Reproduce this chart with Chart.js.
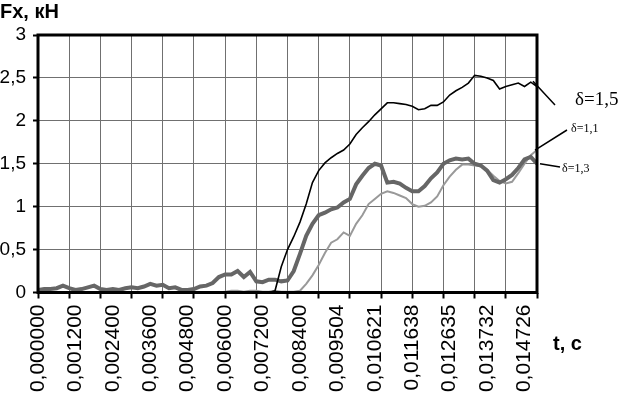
<!DOCTYPE html>
<html lang="ru">

<head>
    <meta charset="UTF-8" />
    <title>Fx(t)</title>
    <style>
        body {
            margin: 0;
            background: #ffffff;
        }

        #fxChart {
            display: block;
        }
    </style>
</head>

<body>
    <canvas id="fxChart" width="618" height="397"></canvas>
</body>
<script src="https://cdn.jsdelivr.net/npm/chart.js"></script>
<script>
    // tick labels
    timeLabels = ['0,000000', '0,001200', '0,002400', '0,003600', '0,004800', '0,006000', '0,007200',
        '0,008400', '0,009504', '0,010621', '0,011638', '0,012635', '0,013732', '0,014726'];
    forceLabels = ['0', '0,5', '1', '1,5', '2', '2,5', '3'];

    // one label every 6 samples, one grid line every 5 samples
    labelStep = 6;
    gridStep = 5;

    // Fx, kN for each sample
    delta15 = [0, 0, 0, 0, 0, 0, 0, 0, 0, 0,
        0, 0, 0, 0, 0, 0, 0, 0, 0, 0,
        0, 0, 0, 0, 0, 0, 0, 0, 0, 0,
        0, 0, 0, 0, 0, 0, 0, 0, 0.02, 0.30,
        0.50, 0.65, 0.82, 1.03, 1.28, 1.42, 1.51, 1.57, 1.62, 1.66,
        1.73, 1.84, 1.92, 1.99, 2.07, 2.14, 2.21, 2.21, 2.20, 2.19,
        2.17, 2.13, 2.14, 2.18, 2.18, 2.22, 2.30, 2.35, 2.39, 2.44,
        2.53, 2.52, 2.50, 2.47, 2.37, 2.40, 2.42, 2.44, 2.40, 2.45,
        2.40];

    delta13 = [0.03, 0.04, 0.04, 0.05, 0.08, 0.05, 0.03, 0.04, 0.06, 0.08,
        0.04, 0.03, 0.04, 0.03, 0.05, 0.06, 0.05, 0.07, 0.10, 0.08,
        0.09, 0.05, 0.06, 0.03, 0.03, 0.04, 0.07, 0.08, 0.11, 0.18,
        0.21, 0.21, 0.25, 0.18, 0.24, 0.13, 0.12, 0.15, 0.15, 0.13,
        0.14, 0.25, 0.45, 0.66, 0.80, 0.90, 0.93, 0.97, 0.99, 1.05,
        1.09, 1.26, 1.36, 1.45, 1.50, 1.48, 1.28, 1.29, 1.27, 1.22,
        1.18, 1.18, 1.24, 1.33, 1.40, 1.50, 1.54, 1.56, 1.55, 1.56,
        1.50, 1.48, 1.42, 1.31, 1.28, 1.32, 1.37, 1.45, 1.55, 1.58,
        1.50];

    delta11 = [0, 0, 0, 0, 0, 0, 0, 0, 0, 0,
        0, 0, 0, 0, 0, 0, 0, 0, 0, 0,
        0, 0, 0, 0, 0, 0, 0, 0, 0, 0,
        0.01, 0.02, 0.02, 0.01, 0.02, 0.02, 0.01, 0.01, 0.02, 0.01,
        0.01, 0.01, 0.02, 0.10, 0.20, 0.32, 0.46, 0.58, 0.62, 0.70,
        0.66, 0.80, 0.90, 1.03, 1.09, 1.15, 1.18, 1.16, 1.13, 1.10,
        1.03, 1.00, 1.01, 1.05, 1.12, 1.25, 1.35, 1.43, 1.49, 1.49,
        1.48, 1.47, 1.43, 1.36, 1.30, 1.27, 1.29, 1.39, 1.50, 1.60,
        1.66];

    function toPoints(values) {
        return values.map((v, i) => ({ x: i, y: v }));
    }

    lastIndex = delta15.length - 1;

    framePlugin = {
        id: 'frame',
        afterDatasetsDraw(chart) {
            const { ctx, chartArea: a } = chart;
            ctx.save();
            ctx.strokeStyle = '#000';
            ctx.lineWidth = 3;
            ctx.strokeRect(a.left, a.top, a.right - a.left, a.bottom - a.top);
            ctx.restore();
        }
    };

    notesPlugin = {
        id: 'notes',
        afterDraw(chart) {
            const ctx = chart.ctx;
            const x = chart.scales.x;
            const y = chart.scales.y;
            const endX = x.getPixelForValue(lastIndex);

            ctx.save();
            ctx.fillStyle = '#000';
            ctx.strokeStyle = '#000';
            ctx.textBaseline = 'alphabetic';

            ctx.font = 'bold 20px "Liberation Sans", Arial, sans-serif';
            ctx.fillText('Fx, кН', 0, 18);
            ctx.fillText('t, с', 553, 350);

            // leader lines to the curve ends
            ctx.lineWidth = 1.5;
            ctx.beginPath();
            ctx.moveTo(endX - 4, y.getPixelForValue(2.46));
            ctx.lineTo(555, 105);
            ctx.moveTo(endX - 2, y.getPixelForValue(1.66));
            ctx.lineTo(567, 130);
            ctx.moveTo(endX + 3, y.getPixelForValue(1.50));
            ctx.lineTo(560, 167);
            ctx.stroke();

            ctx.font = '19px "Liberation Serif", "Times New Roman", serif';
            ctx.fillText('δ=1,5', 575, 105);
            ctx.font = '12px "Liberation Serif", "Times New Roman", serif';
            ctx.fillText('δ=1,1', 571, 132);
            ctx.fillText('δ=1,3', 562, 172);
            ctx.restore();
        }
    };

    new Chart(document.getElementById('fxChart'), {
        type: 'line',
        data: {
            datasets: [{
                label: 'δ=1,5',
                data: toPoints(delta15),
                borderColor: '#000000',
                borderWidth: 1.6,
                pointRadius: 0,
                tension: 0
            }, {
                label: 'δ=1,3',
                data: toPoints(delta13),
                borderColor: '#666666',
                borderWidth: 4,
                pointRadius: 0,
                tension: 0
            }, {
                label: 'δ=1,1',
                data: toPoints(delta11),
                borderColor: '#999999',
                borderWidth: 2,
                pointRadius: 0,
                tension: 0
            }]
        },
        options: {
            responsive: false,
            animation: false,
            layout: {
                padding: { left: 0, top: 35, right: 81, bottom: 0 }
            },
            plugins: {
                legend: { display: false },
                tooltip: { enabled: false }
            },
            scales: {
                x: {
                    type: 'linear',
                    position: 'bottom',
                    weight: 1,
                    min: 0,
                    max: lastIndex,
                    grid: { display: false, drawTicks: false },
                    border: { display: false },
                    afterBuildTicks: (scale) => {
                        scale.ticks = timeLabels.map((t, i) => ({ value: i * labelStep }));
                    },
                    afterFit: (scale) => { scale.height = 97.5; },
                    ticks: {
                        autoSkip: false,
                        minRotation: 90,
                        maxRotation: 90,
                        padding: 5,
                        color: '#000',
                        font: { family: '"Liberation Sans", Arial, sans-serif', size: 21 },
                        callback: (value, index) => timeLabels[index]
                    }
                },
                xGrid: {
                    type: 'linear',
                    position: 'bottom',
                    weight: 0,
                    min: 0,
                    max: lastIndex,
                    border: { display: false },
                    grid: {
                        color: '#707070',
                        borderDash: [6, 4],
                        tickLength: 6,
                        tickColor: '#000',
                        tickWidth: 2,
                        tickBorderDash: []
                    },
                    afterBuildTicks: (scale) => {
                        const ticks = [];
                        for (let v = 0; v <= lastIndex; v += gridStep) ticks.push({ value: v });
                        scale.ticks = ticks;
                    },
                    afterFit: (scale) => { scale.height = 7; },
                    ticks: { display: false }
                },
                y: {
                    min: 0,
                    max: 3,
                    border: { display: false },
                    afterFit: (scale) => { scale.width = 38; },
                    grid: {
                        color: '#707070',
                        borderDash: [6, 4],
                        tickLength: 5,
                        tickColor: '#000',
                        tickWidth: 2,
                        tickBorderDash: []
                    },
                    ticks: {
                        stepSize: 0.5,
                        padding: 7,
                        color: '#000',
                        font: { family: '"Liberation Sans", Arial, sans-serif', size: 19 },
                        callback: (value, index) => forceLabels[index]
                    }
                }
            }
        },
        plugins: [framePlugin, notesPlugin]
    });
</script>

</html>
